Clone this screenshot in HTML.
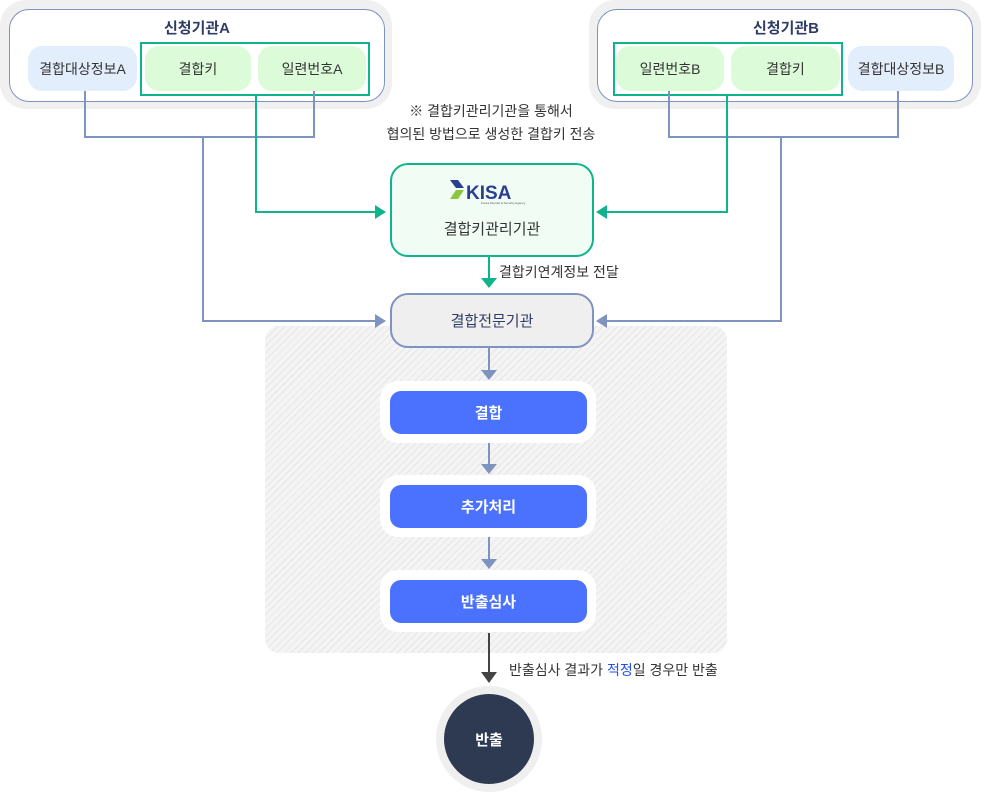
<!DOCTYPE html>
<html><head><meta charset="utf-8"><style>
body{margin:0;width:981px;height:795px;background:#fff;position:relative;overflow:hidden;font-family:"Liberation Sans","Noto Sans CJK KR",sans-serif;}
.a{position:absolute;box-sizing:border-box;}
.c{display:flex;align-items:center;justify-content:center;}
.t{font-size:14px;color:#333;}
</style></head><body>
<div class="a" style="left:265px;top:326px;width:462px;height:327px;border-radius:14px;background:#f4f4f4 repeating-linear-gradient(135deg,#f4f4f4 0 4px,#e6e6e6 4px 5px);"></div>

<div class="a" style="left:0;top:0;width:392px;height:109px;border-radius:26px;background:#f0f0f0"></div>
<div class="a" style="left:9px;top:9px;width:376px;height:93px;border-radius:20px;background:#fff;border:1.5px solid #7f93c0"></div>
<div class="a c" style="left:97px;top:16px;width:200px;height:22px;font-size:15px;font-weight:bold;color:#2f3d66">신청기관A</div>
<div class="a c t" style="left:28px;top:46px;width:109px;height:45px;border-radius:14px;background:#e3eefc">결합대상정보A</div>
<div class="a c t" style="left:145px;top:46px;width:106px;height:45px;border-radius:14px;background:#dcfbd9">결합키</div>
<div class="a c t" style="left:258px;top:46px;width:108px;height:45px;border-radius:14px;background:#dcfbd9">일련번호A</div>
<div class="a" style="left:140px;top:42px;width:230px;height:54px;border:2px solid #10b48c"></div>

<div class="a" style="left:589px;top:0;width:392px;height:109px;border-radius:26px;background:#f0f0f0"></div>
<div class="a" style="left:597px;top:9px;width:376px;height:93px;border-radius:20px;background:#fff;border:1.5px solid #7f93c0"></div>
<div class="a c" style="left:686px;top:16px;width:200px;height:22px;font-size:15px;font-weight:bold;color:#2f3d66">신청기관B</div>
<div class="a c t" style="left:616px;top:46px;width:108px;height:45px;border-radius:14px;background:#dcfbd9">일련번호B</div>
<div class="a c t" style="left:731px;top:46px;width:109px;height:45px;border-radius:14px;background:#dcfbd9">결합키</div>
<div class="a c t" style="left:848px;top:46px;width:106px;height:45px;border-radius:14px;background:#e3eefc">결합대상정보B</div>
<div class="a" style="left:613px;top:42px;width:230px;height:54px;border:2px solid #10b48c"></div>

<div class="a" style="left:341px;top:100px;width:300px;text-align:center;font-size:14px;line-height:23px;color:#333">※ 결합키관리기관을 통해서<br>협의된 방법으로 생성한 결합키 전송</div>

<svg class="a" style="left:0;top:0" width="981" height="795">
<g fill="none" stroke="#7f93c0" stroke-width="2">
<polyline points="85,91 85,137 314,137 314,91"/><polyline points="203,137 203,321 377,321"/>
<polyline points="669,91 669,137 898,137 898,91"/><polyline points="781,137 781,321 605,321"/>
<line x1="489" y1="348" x2="489" y2="370"/><line x1="489" y1="443" x2="489" y2="464"/><line x1="489" y1="537" x2="489" y2="559"/>
</g>
<g fill="#7f93c0"><polygon points="386,321 375,314 375,328"/><polygon points="596,321 607,314 607,328"/>
<polygon points="489,380 481,370 497,370"/><polygon points="489,474 481,464 497,464"/><polygon points="489,569 481,559 497,559"/></g>
<g fill="none" stroke="#10b48c" stroke-width="2">
<polyline points="256,96 256,212 377,212"/><polyline points="727,96 727,212 605,212"/><line x1="489" y1="257" x2="489" y2="278"/></g>
<g fill="#10b48c"><polygon points="386,212 375,205 375,219"/><polygon points="596,212 607,205 607,219"/><polygon points="489,288 481,278 497,278"/></g>
<line x1="489" y1="633" x2="489" y2="673" stroke="#444" stroke-width="2"/><polygon points="489,683 481,672 497,672" fill="#444"/>
</svg>

<div class="a" style="left:390px;top:163px;width:204px;height:94px;border-radius:18px;border:2px solid #10b48c;background:#f0fcf4"></div>
<div class="a" style="left:450px;top:179px;width:90px;height:26px;">
<svg width="90" height="26"><polygon points="0,1 8,1 14,9 6,9" fill="#2a3f91"/><polygon points="6,11 14,11 8,20 0,20" fill="#8cc63f"/>
<text x="16" y="20" font-family="Liberation Sans,sans-serif" font-weight="bold" font-size="19" fill="#2a3f91">KISA</text>
<text x="31" y="25" font-size="3" fill="#555" font-family="Liberation Sans,sans-serif">Korea Internet &amp; Security Agency</text></svg></div>
<div class="a c" style="left:390px;top:216px;width:204px;height:24px;font-size:15px;color:#333">결합키관리기관</div>
<div class="a" style="left:499px;top:262px;font-size:14px;color:#333">결합키연계정보 전달</div>
<div class="a c" style="left:390px;top:293px;width:204px;height:55px;border-radius:18px;border:2px solid #7f93c0;background:#efefef;font-size:15px;color:#2f3d66">결합전문기관</div>

<div class="a" style="left:380px;top:381px;width:216px;height:62px;border-radius:18px;background:#fff"></div>
<div class="a c" style="left:390px;top:391px;width:197px;height:43px;border-radius:11px;background:#4a72ff;color:#fff;font-size:15px;font-weight:bold">결합</div>
<div class="a" style="left:380px;top:475px;width:216px;height:62px;border-radius:18px;background:#fff"></div>
<div class="a c" style="left:390px;top:485px;width:197px;height:43px;border-radius:11px;background:#4a72ff;color:#fff;font-size:15px;font-weight:bold">추가처리</div>
<div class="a" style="left:380px;top:570px;width:216px;height:62px;border-radius:18px;background:#fff"></div>
<div class="a c" style="left:390px;top:580px;width:197px;height:43px;border-radius:11px;background:#4a72ff;color:#fff;font-size:15px;font-weight:bold">반출심사</div>

<div class="a" style="left:509px;top:660px;font-size:14px;color:#333">반출심사 결과가 <span style="color:#1f4ff0">적정</span>일 경우만 반출</div>
<div class="a" style="left:436px;top:686px;width:106px;height:106px;border-radius:50%;background:#efefef"></div>
<div class="a c" style="left:444px;top:694px;width:90px;height:90px;border-radius:50%;background:#2d3a52;color:#fff;font-size:15px;font-weight:bold">반출</div>
</body></html>
